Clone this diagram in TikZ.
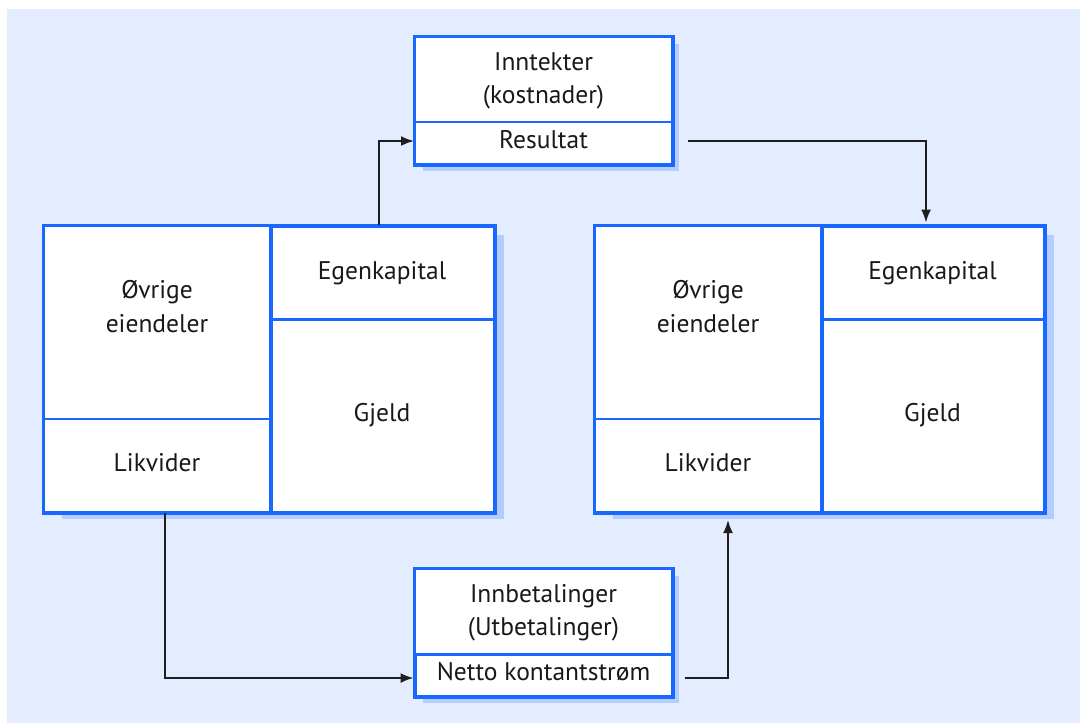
\documentclass[tikz,border=0pt]{standalone}
\usepackage{fontspec}
\setmainfont{PT Sans}
\usetikzlibrary{arrows.meta}
\definecolor{bgblue}{RGB}{228,237,255}
\definecolor{bblue}{RGB}{24,104,255}
\definecolor{shblue}{RGB}{180,205,255}
\definecolor{linec}{RGB}{30,30,30}
\tikzset{
  comp/.style={draw=bblue, line width=2pt, fill=white, inner sep=0pt, rectangle},
  frame/.style={draw=bblue, line width=3pt},
  shadowbox/.style={fill=shblue, draw=none},
  lbl/.style={anchor=base, inner sep=0pt, font=\fontsize{25.5}{30}\selectfont, text=black!90},
  conn/.style={draw=linec, line width=1.8pt, -{Latex[length=13pt,width=10pt]}}
}
\begin{document}
\begin{tikzpicture}[x=1pt,y=-1pt]
\useasboundingbox (0,0) rectangle (1080,723);
\fill[bgblue] (7,9) rectangle (1080,723);
% shadows
\fill[shblue] (423,44) rectangle (679,171);
\fill[shblue] (62,235) rectangle (504,519);
\fill[shblue] (613,235) rectangle (1054,519);
\fill[shblue] (423,576) rectangle (679,703);
% top box
\node[comp, minimum width=257pt, minimum height=85pt] (Tinn) at (543.5,79.5) {};
\node[comp, minimum width=257pt, minimum height=42pt] (Tres) at (543.5,143) {};
\draw[frame] (Tinn.north west) rectangle (Tres.south east);
% left balance
\node[comp, minimum width=226pt, minimum height=193pt] (LOV) at (157,322.5) {};
\node[comp, minimum width=226pt, minimum height=93pt] (LLI) at (157,465.5) {};
\node[comp, minimum width=224pt, minimum height=193pt] (LGJ) at (382,415.5) {};
\node[comp, minimum width=224pt, minimum height=93pt, line width=3pt] (LEK) at (382,272.5) {};
\draw[frame] (LOV.north east) -- (LLI.south east);
\draw[frame] (LOV.north west) rectangle (LGJ.south east);
% right balance
\node[comp, minimum width=226pt, minimum height=193pt] (ROV) at (708,322.5) {};
\node[comp, minimum width=226pt, minimum height=93pt] (RLI) at (708,465.5) {};
\node[comp, minimum width=223pt, minimum height=193pt] (RGJ) at (932.5,415.5) {};
\node[comp, minimum width=223pt, minimum height=93pt, line width=3pt] (REK) at (932.5,272.5) {};
\draw[frame] (ROV.north east) -- (RLI.south east);
\draw[frame] (ROV.north west) rectangle (RGJ.south east);
% bottom box
\node[comp, minimum width=257pt, minimum height=85pt] (Binn) at (543.5,611.5) {};
\node[comp, minimum width=257pt, minimum height=42pt, line width=3pt] (Bnet) at (543.5,675) {};
\draw[frame] (Binn.north west) rectangle (Bnet.south east);
% labels
\node[lbl] (t1) at (543.5,70) {Inntekter};
\node[lbl] (t2) at (543.5,103) {(kostnader)};
\node[lbl] (t3) at (543.5,148) {Resultat};
\node[lbl] (l1) at (157,298) {Øvrige};
\node[lbl] (l2) at (157,332) {eiendeler};
\node[lbl] (l3) at (157,471) {Likvider};
\node[lbl] (l4) at (382,279) {Egenkapital};
\node[lbl] (l5) at (382,421) {Gjeld};
\node[lbl] (r1) at (708,298) {Øvrige};
\node[lbl] (r2) at (708,332) {eiendeler};
\node[lbl] (r3) at (708,471) {Likvider};
\node[lbl] (r4) at (932.5,279) {Egenkapital};
\node[lbl] (r5) at (932.5,421) {Gjeld};
\node[lbl] (b1) at (543.5,602) {Innbetalinger};
\node[lbl] (b2) at (543.5,635) {(Utbetalinger)};
\node[lbl] (b3) at (543.5,680) {Netto kontantstrøm};
% connectors
\draw[conn] ([xshift=-3pt]LEK.north) |- ([yshift=2pt]Tres.west);
\draw[conn, shorten >=2pt] ([xshift=15pt,yshift=2pt]Tres.east) -| ([xshift=-6.5pt]REK.north);
\draw[conn] ([xshift=8pt]LLI.south) |- ([yshift=-3pt]Bnet.west);
\draw[conn, shorten >=7pt] ([xshift=11pt,yshift=-3pt]Bnet.east) -| ([xshift=20pt]RLI.south);
\end{tikzpicture}
\end{document}
